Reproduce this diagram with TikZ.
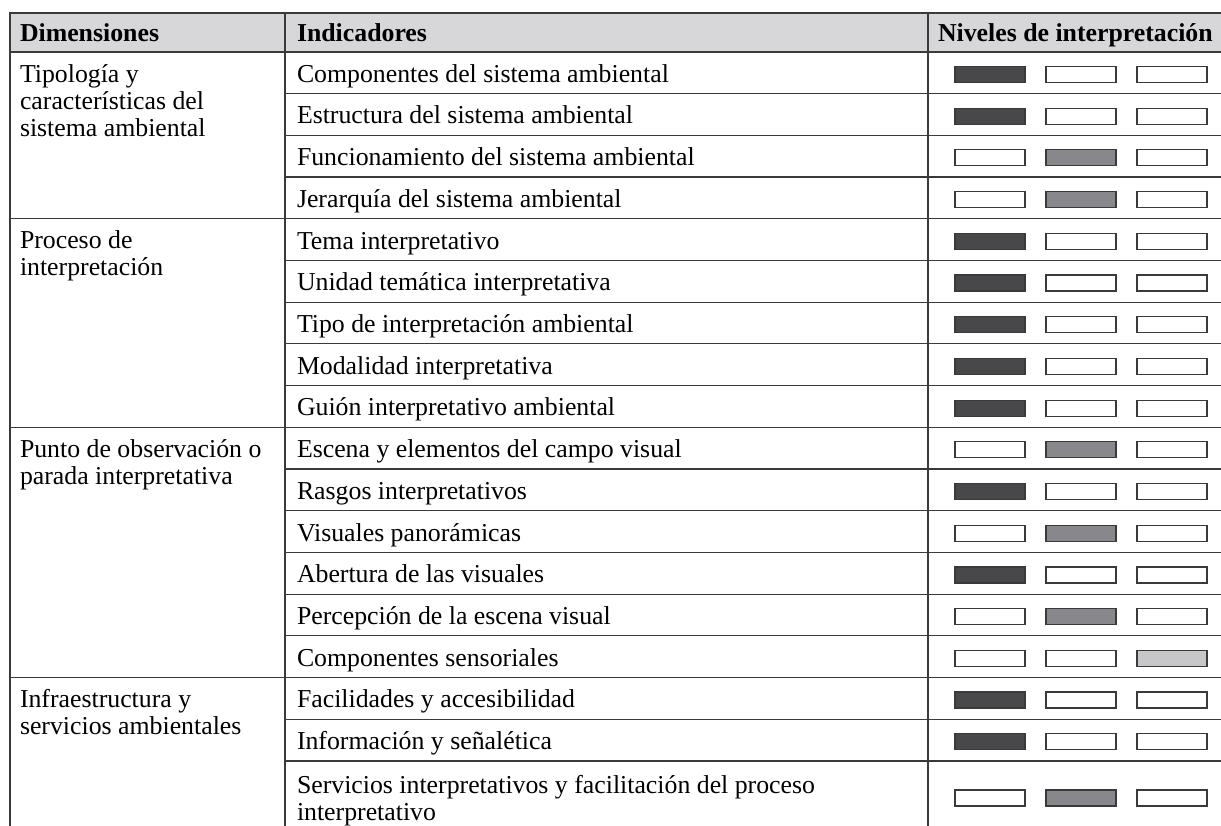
\documentclass[tikz,border=0pt]{standalone}
\usepackage{fontspec}
\setmainfont{Liberation Serif}
\usetikzlibrary{positioning}
\definecolor{rule}{HTML}{3A3A3C}
\definecolor{head}{HTML}{D7D7D9}
\definecolor{high}{HTML}{48484B}
\definecolor{mid}{HTML}{88888C}
\definecolor{low}{HTML}{C7C7C9}
\tikzset{
	every node/.style={inner sep=0pt,outer sep=0pt,font=\fontsize{25.8}{27}\selectfont},
	txt/.style = {anchor=base west, align=left},
	hdr/.style = {txt, font=\fontsize{25.8}{27}\selectfont\bfseries},
	bar/.style = {draw=rule, line width=1.2pt, minimum width=70pt, minimum height=16pt},
	rules/.style = {draw=rule, line width=1.2pt}
}
\begin{document}
\begin{tikzpicture}[x=1pt, y=-1pt]
	\useasboundingbox (0,0) rectangle (1221,826);
	% Header
	\fill[head] (10,13) rectangle (1221,52);
	\node (hd) [hdr] at (20,42) {Dimensiones};
	\node (hi) [hdr] at (297,42) {Indicadores};
	\node (hn) [hdr] at (938,42) {Niveles de interpretación};
	
	% Dimensiones (base = last line)
	\node (d1) [txt] at (20,136.3) {Tipología y\\características del\\sistema ambiental};
	\node (d2) [txt] at (20,276) {Proceso de\\interpretación};
	\node (d3) [txt] at (20,484.6) {Punto de observación o\\parada interpretativa};
	\node (d4) [txt] at (20,734.8) {Infraestructura y\\servicios ambientales};
	
	% Indicadores
	\node (i1) [txt] at (297,82.3) {Componentes del sistema ambiental};
	\node (i2) [txt] at (297,124) {Estructura del sistema ambiental};
	\node (i3) [txt] at (297,165.7) {Funcionamiento del sistema ambiental};
	\node (i4) [txt] at (297,207.4) {Jerarquía del sistema ambiental};
	\node (i5) [txt] at (297,249.1) {Tema interpretativo};
	\node (i6) [txt] at (297,290.8) {Unidad temática interpretativa};
	\node (i7) [txt] at (297,332.5) {Tipo de interpretación ambiental};
	\node (i8) [txt] at (297,374.2) {Modalidad interpretativa};
	\node (i9) [txt] at (297,415.9) {Guión interpretativo ambiental};
	\node (i10) [txt] at (297,457.6) {Escena y elementos del campo visual};
	\node (i11) [txt] at (297,499.3) {Rasgos interpretativos};
	\node (i12) [txt] at (297,541) {Visuales panorámicas};
	\node (i13) [txt] at (297,582.7) {Abertura de las visuales};
	\node (i14) [txt] at (297,624.4) {Percepción de la escena visual};
	\node (i15) [txt] at (297,666.1) {Componentes sensoriales};
	\node (i16) [txt] at (297,707.8) {Facilidades y accesibilidad};
	\node (i17) [txt] at (297,749.5) {Información y señalética};
	\node (i18) [txt] at (297,820) {Servicios interpretativos y facilitación del proceso\\interpretativo};
	
	% Niveles
	\foreach \r/\lv in {1/1,2/1,3/2,4/2,5/1,6/1,7/1,8/1,9/1,10/2,11/1,12/2,13/1,14/2,15/3,16/1,17/1,18/2}{
		\pgfmathsetmacro\yc{\r<18 ? 74.5+41.7*(\r-1) : 798}
		\foreach \k/\col in {1/high,2/mid,3/low}{
			\ifnum\k=\lv \def\bfill{\col}\else\def\bfill{white}\fi
			\node (b\r-\k) [bar, fill=\bfill] at ({990+91*(\k-1)},\yc) {};
		}
	}
	
	% Rules
	\draw[rules] (1221,13) -- (10,13) -- (10,826);
	\draw[rules] (285,13) -- (285,826);
	\draw[rules] (928,13) -- (928,826);
	\foreach \y in {52,218.8,427.3,677.5}
		\draw[rules] (10,\y) -- (1221,\y);
	\foreach \r in {2,3,4,6,7,8,9,11,12,13,14,15,17,18}
		\draw[rules] (285,{52+41.7*(\r-1)}) -- (1221,{52+41.7*(\r-1)});
\end{tikzpicture}
\end{document}
